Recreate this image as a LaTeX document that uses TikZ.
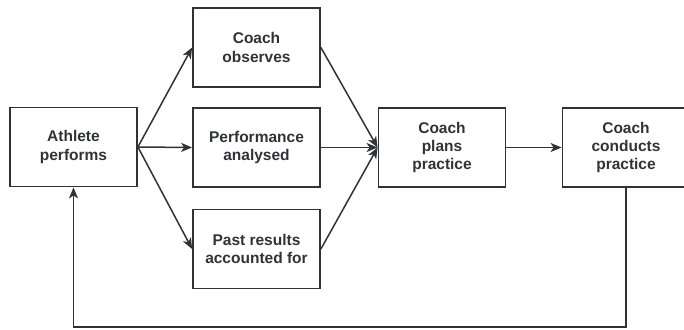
\documentclass[tikz,border=0pt]{standalone}
\usepackage{fontspec}
\setmainfont{Liberation Sans}
\usetikzlibrary{arrows.meta}
\definecolor{ink}{RGB}{48,50,55}

\tikzset{
  stage/.style={draw=ink, line width=1.8pt, text=ink, font=\bfseries\fontsize{15.5}{18.3}\selectfont,
    align=center, minimum width=127pt, minimum height=79pt, inner sep=0pt},
  flow/.style={-{Stealth[length=11pt,width=9pt,inset=3pt]}, draw=ink, line width=1.5pt}
}

\begin{document}
\begin{tikzpicture}[x=1pt,y=-1pt]
\clip (0,0) rectangle (684,329);
\node[stage] (athlete) at (73.5,147) {Athlete\\performs};
\node[stage] (observes) at (256.5,47.5) {Coach\\observes};
\node[stage] (analysed) at (256.5,147.5) {Performance\\analysed};
\node[stage] (past) at (256.5,249) {Past results\\accounted for};
\node[stage] (plans) at (442,147.5) {Coach\\plans\\practice};
\node[stage] (conducts) at (626,147.5) {Coach\\conducts\\practice};

% athlete to the three inputs
\draw[flow] (athlete.east) -- (observes.west);
\draw[flow] (athlete.east) -- (analysed.west);
\draw[flow] (athlete.east) -- (past.west);

% inputs to planning
\draw[flow] (observes.east) -- (plans.west);
\draw[flow] (analysed.east) -- (plans.west);
\draw[flow] (past.east) -- (plans.west);

\draw[flow] (plans.east) -- (conducts.west);

% feedback loop
\draw[flow] (conducts.south) -- ++(0,139) -| (athlete.south);
\end{tikzpicture}
\end{document}
